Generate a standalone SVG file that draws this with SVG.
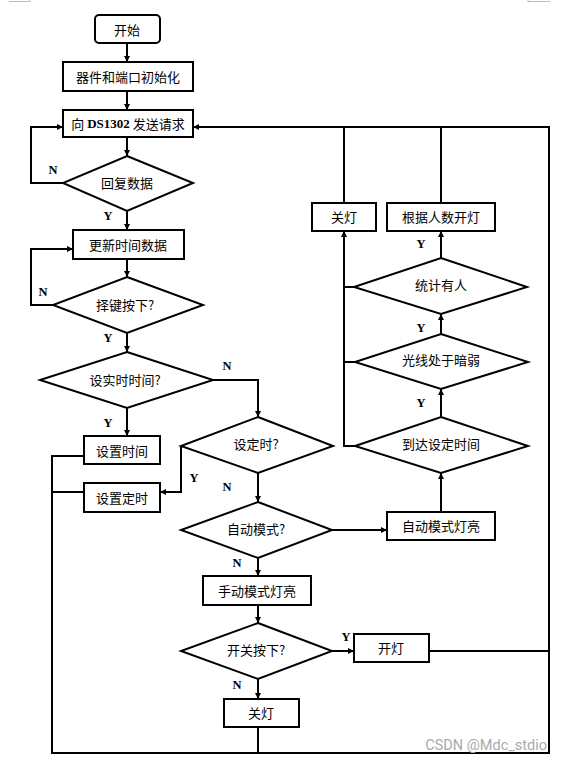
<svg xmlns="http://www.w3.org/2000/svg" width="562" height="762" viewBox="0 0 562 762">
<defs>
<marker id="ah" viewBox="0 0 10 10" refX="10" refY="5" markerWidth="6" markerHeight="6" markerUnits="userSpaceOnUse" orient="auto">
<path d="M0,0 L10,5 L0,10 z" fill="#000"/>
</marker>
<style>
.s{fill:#fff;stroke:#000;stroke-width:2}
.c{fill:none;stroke:#000;stroke-width:2}
.a{marker-end:url(#ah)}
.t{font-family:"Noto Sans CJK SC","Noto Sans",sans-serif;font-size:13px;fill:#000;text-anchor:middle;dominant-baseline:central}
.l{font-family:"Liberation Serif",serif;font-size:12.5px;font-weight:bold;fill:#000;text-anchor:middle;dominant-baseline:central}
.m{stroke:#bbb;stroke-width:1;fill:none}
</style>
</defs>
<rect width="562" height="762" fill="#fff"/>
<path class="m" d="M9,1.5 H30 V0 M528,0 V1.5 H550"/>

<g id="connectors">
<path class="c a" d="M127,43 V62"/>
<path class="c a" d="M127,91 V110"/>
<path class="c a" d="M127,137 V156"/>
<path class="c a" d="M63,183 H31 V127 H63"/>
<path class="c a" d="M127,211 V230"/>
<path class="c a" d="M127,259 V277"/>
<path class="c a" d="M53,305 H31 V249 H73"/>
<path class="c a" d="M127,333 V352"/>
<path class="c a" d="M213,380 H258 V417"/>
<path class="c a" d="M127,408 V436"/>
<path class="c a" d="M181,446 V492 H160"/>
<path class="c a" d="M258,473 V502"/>
<path class="c a" d="M332,530 H387"/>
<path class="c a" d="M258,558 V576"/>
<path class="c a" d="M258,605 V623"/>
<path class="c a" d="M332,651 H354"/>
<path class="c a" d="M258,679 V699"/>
<path class="c" d="M258,727 V753"/>
<path class="c a" d="M84,456 H52 V753 H549 V127 H193"/>
<path class="c" d="M84,492 H52"/>
<path class="c" d="M429,651 H549"/>
<path class="c a" d="M441,512 V473"/>
<path class="c a" d="M441,417 V389"/>
<path class="c a" d="M441,334 V314"/>
<path class="c a" d="M441,258 V231"/>
<path class="c" d="M441,203 V127"/>
<path class="c a" d="M355,446 H344 V231"/>
<path class="c" d="M355,362 H344 M354,287 H344"/>
<path class="c" d="M344,203 V127"/>
</g>

<g id="labels">
<text class="l" x="53" y="170">N</text>
<text class="l" x="108" y="216">Y</text>
<text class="l" x="43" y="292">N</text>
<text class="l" x="108" y="338">Y</text>
<text class="l" x="227" y="366">N</text>
<text class="l" x="108" y="423">Y</text>
<text class="l" x="194" y="478">Y</text>
<text class="l" x="227" y="487">N</text>
<text class="l" x="237" y="563">N</text>
<text class="l" x="346" y="637">Y</text>
<text class="l" x="237" y="685">N</text>
<text class="l" x="421" y="244">Y</text>
<text class="l" x="421" y="328">Y</text>
<text class="l" x="421" y="403">Y</text>
</g>

<g id="start"><rect class="s" x="95" y="15" width="65" height="28" rx="4"/><text class="t" x="127" y="29">开始</text></g>
<g id="init"><rect class="s" x="63" y="62" width="130" height="29"/><text class="t" x="128" y="76">器件和端口初始化</text></g>
<g id="request"><rect class="s" x="63" y="110" width="130" height="27"/><text class="t" x="128" y="123">向 <tspan font-family="Liberation Serif, serif" font-weight="bold" font-size="13">DS1302</tspan> 发送请求</text></g>
<g id="reply"><path class="s" d="M127,156 L193,183 L127,211 L63,183 Z"/><text class="t" x="127" y="182">回复数据</text></g>
<g id="update"><rect class="s" x="73" y="230" width="111" height="29"/><text class="t" x="128" y="244">更新时间数据</text></g>
<g id="keypress"><path class="s" d="M127,277 L203,305 L127,333 L53,305 Z"/><text class="t" x="125" y="304">择键按下?</text></g>
<g id="setrtc"><path class="s" d="M127,352 L213,380 L127,408 L40,380 Z"/><text class="t" x="125" y="379">设实时时间?</text></g>
<g id="settime"><rect class="s" x="84" y="436" width="76" height="28"/><text class="t" x="122" y="450">设置时间</text></g>
<g id="settimer"><rect class="s" x="84" y="483" width="76" height="29"/><text class="t" x="122" y="497">设置定时</text></g>
<g id="istimer"><path class="s" d="M258,417 L333,446 L258,473 L181,446 Z"/><text class="t" x="256" y="443">设定时?</text></g>
<g id="automode"><path class="s" d="M258,502 L332,530 L258,558 L181,530 Z"/><text class="t" x="256" y="528">自动模式?</text></g>
<g id="autolight"><rect class="s" x="387" y="512" width="108" height="28"/><text class="t" x="441" y="525">自动模式灯亮</text></g>
<g id="reachtime"><path class="s" d="M441,417 L528,446 L441,473 L355,446 Z"/><text class="t" x="441" y="443">到达设定时间</text></g>
<g id="dark"><path class="s" d="M441,334 L528,362 L441,389 L355,362 Z"/><text class="t" x="441" y="359">光线处于暗弱</text></g>
<g id="people"><path class="s" d="M441,258 L527,287 L441,314 L354,287 Z"/><text class="t" x="441" y="284">统计有人</text></g>
<g id="lightbypeople"><rect class="s" x="387" y="203" width="108" height="28"/><text class="t" x="441" y="216">根据人数开灯</text></g>
<g id="off1"><rect class="s" x="312" y="203" width="64" height="28"/><text class="t" x="344" y="216">关灯</text></g>
<g id="manual"><rect class="s" x="203" y="576" width="108" height="29"/><text class="t" x="257" y="590">手动模式灯亮</text></g>
<g id="switch"><path class="s" d="M258,623 L332,651 L258,679 L181,651 Z"/><text class="t" x="256" y="649">开关按下?</text></g>
<g id="on"><rect class="s" x="354" y="634" width="75" height="28"/><text class="t" x="391" y="647">开灯</text></g>
<g id="off2"><rect class="s" x="224" y="699" width="75" height="28"/><text class="t" x="261" y="712">关灯</text></g>

<text x="547" y="750" font-family="Roboto, sans-serif" font-size="14.5" fill="#aaa" text-anchor="end">CSDN @Mdc_stdio</text>
</svg>
